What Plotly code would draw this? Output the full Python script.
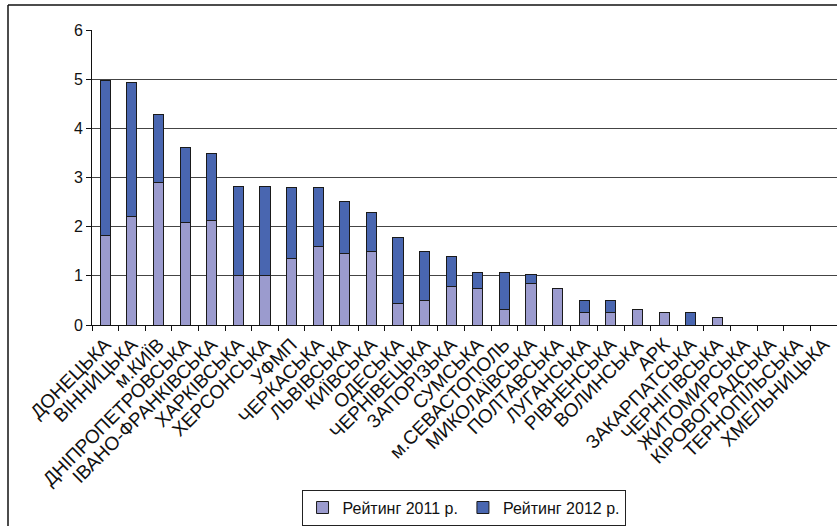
import plotly.graph_objects as go

regions = ["ДОНЕЦЬКА", "ВІННИЦЬКА", "м.КИЇВ", "ДНІПРОПЕТРОВСЬКА", "ІВАНО-ФРАНКІВСЬКА",
           "ХАРКІВСЬКА", "ХЕРСОНСЬКА", "УФМП", "ЧЕРКАСЬКА", "ЛЬВІВСЬКА", "КИЇВСЬКА",
           "ОДЕСЬКА", "ЧЕРНІВЕЦЬКА", "ЗАПОРІЗЬКА", "СУМСЬКА", "м.СЕВАСТОПОЛЬ",
           "МИКОЛАЇВСЬКА", "ПОЛТАВСЬКА", "ЛУГАНСЬКА", "РІВНЕНСЬКА", "ВОЛИНСЬКА", "АРК",
           "ЗАКАРПАТСЬКА", "ЧЕРНІГІВСЬКА", "ЖИТОМИРСЬКА", "КІРОВОГРАДСЬКА",
           "ТЕРНОПІЛЬСЬКА", "ХМЕЛЬНИЦЬКА"]

rating_2011 = [1.83, 2.20, 2.89, 2.09, 2.13, 1.00, 1.00, 1.35, 1.60, 1.46, 1.49,
               0.43, 0.50, 0.78, 0.75, 0.31, 0.84, 0.75, 0.25, 0.25, 0.31, 0.25,
               0.00, 0.16, 0.00, 0.00, 0.00, 0.00]

rating_2012 = [3.14, 2.74, 1.40, 1.52, 1.36, 1.82, 1.82, 1.45, 1.20, 1.06, 0.80,
               1.34, 0.99, 0.61, 0.32, 0.76, 0.18, 0.00, 0.25, 0.25, 0.00, 0.00,
               0.25, 0.00, 0.00, 0.00, 0.00, 0.00]

series_names = ["Рейтинг 2011 р.", "Рейтинг 2012 р."]
y_ticks = [0, 1, 2, 3, 4, 5, 6]

FONT = "Arial, Liberation Sans, sans-serif"

fig = go.Figure()
fig.add_trace(go.Bar(x=regions, y=rating_2011, name=series_names[0],
                     marker=dict(color="#9B9BCE", line=dict(color="#1a1a1a", width=1))))
fig.add_trace(go.Bar(x=regions, y=rating_2012, name=series_names[1],
                     marker=dict(color="#4966B0", line=dict(color="#1a1a1a", width=1))))

frame_left = (8 - 92) / 745
frame_top = (325 - 5) / 295

fig.update_layout(
    barmode="stack",
    bargap=0.62,
    width=837, height=526,
    margin=dict(l=92, r=0, t=30, b=201),
    paper_bgcolor="white", plot_bgcolor="white",
    font=dict(family=FONT, color="#111111"),
    showlegend=True,
    legend=dict(orientation="h", x=0.4987, xanchor="center", y=-0.558, yanchor="top",
                bordercolor="#222222", borderwidth=1, font=dict(size=16, family=FONT),
                traceorder="normal", itemwidth=30),
    shapes=[
        dict(type="line", xref="paper", yref="paper",
             x0=frame_left, x1=frame_left, y0=-0.75, y1=frame_top,
             line=dict(color="#111111", width=1.5)),
        dict(type="line", xref="paper", yref="paper",
             x0=frame_left, x1=1.02, y0=frame_top, y1=frame_top,
             line=dict(color="#111111", width=1.5)),
    ],
)

fig.update_xaxes(tickangle=-45, tickfont=dict(size=19, family=FONT),
                 showline=True, linecolor="#111111", linewidth=1,
                 ticks="outside", ticklen=5, tickcolor="#111111", tickson="boundaries",
                 showgrid=False)
fig.update_yaxes(range=[0, 6], tickvals=y_ticks, tickfont=dict(size=16, family=FONT),
                 showline=True, linecolor="#111111", linewidth=1,
                 ticks="outside", ticklen=5, tickcolor="#111111",
                 showgrid=True, gridcolor="#444444", gridwidth=1, zeroline=False)

fig.write_html(
    "out.html",
    post_script="document.documentElement.style.overflow='hidden';"
                "document.body.style.overflow='hidden';document.body.style.margin='0';",
)
